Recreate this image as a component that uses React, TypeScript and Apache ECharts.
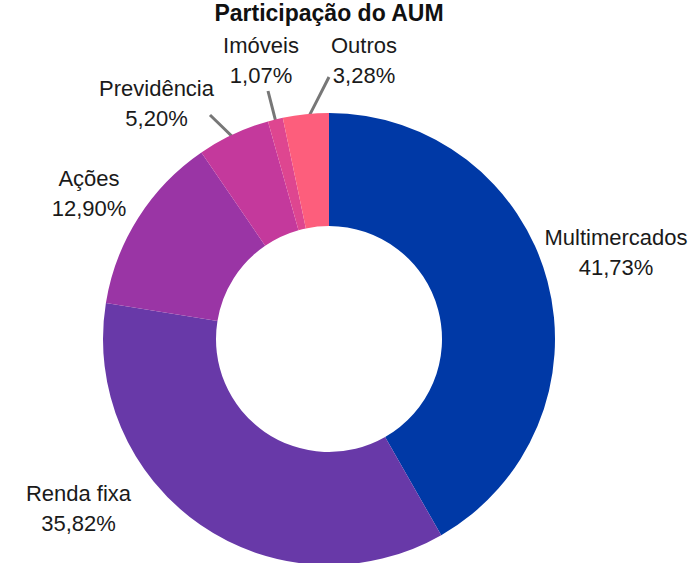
import React, { useEffect, useRef } from "react";
import * as echarts from "echarts";

const titleText = "Participação do AUM";
const categories = ["Multimercados", "Renda fixa", "Ações", "Previdência", "Imóveis", "Outros"];
const shares = [41.73, 35.82, 12.9, 5.2, 1.07, 3.28];
const colors = ["#0039A6", "#6839A8", "#9A35A5", "#C4399C", "#DE4690", "#FD5E7C"];
const showLine = [false, false, false, true, true, true];

// label placement (style only)
const labelPos: [number, number][] = [
  [616, 252],
  [78.5, 508],
  [89, 193],
  [156.5, 103],
  [261, 60],
  [364, 60],
];
const lineEnd: ([number, number] | null)[] = [null, null, null, [210, 115], [268, 91], [329, 77]];
const CX = 329;
const CY = 339;

export default function App() {
  const ref = useRef<HTMLDivElement>(null);
  useEffect(() => {
    document.body.style.margin = "0";
    const chart = echarts.init(ref.current!, undefined, { renderer: "svg" });
    const fmt = (v: number) => v.toFixed(2).replace(".", ",") + "%";
    chart.setOption({
      animation: false,
      backgroundColor: "#ffffff",
      title: {
        text: titleText,
        left: CX,
        top: 1,
        padding: 0,
        textAlign: "center",
        textStyle: {
          fontFamily: "Liberation Sans",
          fontWeight: "bold",
          fontSize: 23,
          color: "#111111",
        },
      },
      series: [
        {
          type: "pie",
          center: [CX, CY],
          radius: [113, 226],
          startAngle: 90,
          clockwise: true,
          avoidLabelOverlap: false,
          label: {
            show: true,
            position: "outside",
            formatter: (p: any) => p.name + "\n" + fmt(p.value),
            fontFamily: "Liberation Sans",
            fontSize: 22,
            lineHeight: 30,
            color: "#1a1a1a",
            align: "center",
          },
          labelLine: {
            show: true,
            length: 10,
            length2: 0,
            lineStyle: { color: "#777777", width: 3 },
          },
          labelLayout: (params: any) => {
            const i = params.dataIndex;
            const res: any = {
              x: labelPos[i][0],
              y: labelPos[i][1],
              align: "center",
              verticalAlign: "middle",
            };
            const end = lineEnd[i];
            if (end && params.labelLinePoints) {
              const s = params.labelLinePoints[0];
              const dx = s[0] - CX;
              const dy = s[1] - CY;
              const d = Math.sqrt(dx * dx + dy * dy) || 1;
              const sx = s[0] - (dx / d) * 7;
              const sy = s[1] - (dy / d) * 7;
              res.labelLinePoints = [
                [sx, sy],
                [(sx + end[0]) / 2, (sy + end[1]) / 2],
                [end[0], end[1]],
              ];
            }
            return res;
          },
          emphasis: { disabled: true },
          data: categories.map((name, i) => ({
            name,
            value: shares[i],
            itemStyle: { color: colors[i] },
            labelLine: { show: showLine[i] },
          })),
        },
      ],
    });
    return () => chart.dispose();
  }, []);
  return <div ref={ref} style={{ width: 694, height: 563 }} />;
}
